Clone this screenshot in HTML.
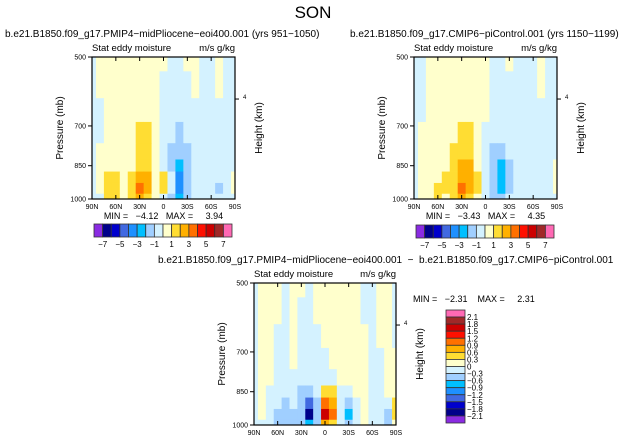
<!DOCTYPE html>
<html><head><meta charset="utf-8"><style>
html,body{margin:0;padding:0;background:#fff}
svg{display:block;font-family:"Liberation Sans",sans-serif}
svg text{white-space:pre}
</style></head><body>
<svg id="fig" width="627" height="442" viewBox="0 0 627 442" xmlns="http://www.w3.org/2000/svg">
<text x="313" y="18" font-size="17" text-anchor="middle" fill="#000">SON</text>
</svg>
<script>
const lats=[90,80,70,60,50,40,30,20,10,0,-10,-20,-30,-40,-50,-60,-70,-80,-90];
const levels=[500,575,650,725,800,850,900,950,1000];
const xTickLabels=['90N','60N','30N','0','30S','60S','90S'];
const yTickLabels=[500,700,850,1000];
const barLabelsTop=['-7','-5','-3','-1','1','3','5','7'];
const barLabelsDiff=['2.1','1.8','1.5','1.2','0.9','0.6','0.3','0','-0.3','-0.6','-0.9','-1.2','-1.5','-1.8','-2.1'];
const plioValues=[
[-0.5,0.5,0.5,0.5,0.5,0.5,0.5,0.5,0.5,0.5,-0.5,-0.5,0.5,0.5,-0.5,-0.5,0.5,-0.5,-0.5],
[-0.5,0.5,0.5,0.5,0.5,0.5,0.5,0.5,0.5,-0.5,-0.5,-0.5,-0.5,0.5,-0.5,-0.5,0.5,-0.5,-0.5],
[-0.5,-0.5,0.5,0.5,0.5,0.5,0.5,0.5,0.5,-0.5,-0.5,-0.5,-0.5,-0.5,-0.5,-0.5,-0.5,-0.5,-0.5],
[-0.5,-0.5,0.5,0.5,0.5,0.5,1.5,1.2,0.5,-0.5,-0.5,-1.5,-0.5,-0.5,-0.5,-0.5,-0.5,-0.5,-0.5],
[-0.5,0.5,0.5,0.5,0.5,0.5,1.5,1.5,0.5,-0.5,-1.5,-1.5,-1.5,-0.5,-0.5,-0.5,-0.5,-0.5,-0.5],
[-0.5,0.5,0.5,0.5,0.5,0.5,1.5,1.5,0.5,-0.5,-1.5,-2.5,-1.5,-0.5,-0.5,-0.5,-0.5,-0.5,-0.5],
[-0.5,0.5,1.5,1.5,0.5,1.5,2.5,2.5,0.5,1.5,-0.5,-3.5,-1.5,-0.5,-0.5,-0.5,-0.5,-0.5,0.5],
[-0.5,0.5,1.5,1.5,0.5,1.5,3.5,2.5,0.5,1.5,-0.5,-3.5,-1.5,-0.5,-0.5,-0.5,-1.5,-0.5,0.5],
[-0.5,-0.5,1.5,1.5,0.5,1.5,2.5,1.5,0.5,-0.5,-1.5,-2.5,-1.5,-0.5,-0.5,-0.5,-0.5,-0.5,-0.5]];
const piValues=[
[-0.5,-0.5,0.5,0.5,0.5,0.5,0.5,0.5,0.5,0.5,-0.5,-0.5,0.5,-0.5,-0.5,-0.5,0.5,-0.5,-0.5],
[-0.5,-0.5,0.5,0.5,0.5,0.5,0.5,0.5,0.5,0.5,-0.5,-0.5,-0.5,-0.5,-0.5,-0.5,0.5,-0.5,-0.5],
[-0.5,-0.5,0.5,0.5,0.5,0.5,0.5,0.5,0.5,0.5,-0.5,-0.5,-0.5,-0.5,-0.5,-0.5,-0.5,-0.5,-0.5],
[-0.5,0.5,0.5,0.5,0.5,0.5,1.5,1.5,0.5,-0.5,-0.5,-0.5,-0.5,-0.5,-0.5,-0.5,-0.5,-0.5,-0.5],
[-0.5,0.5,0.5,0.5,0.5,1.5,1.5,1.5,0.5,-0.5,-1.5,-1.5,-0.5,-0.5,-0.5,-0.5,-0.5,-0.5,-0.5],
[-0.5,0.5,0.5,0.5,0.5,1.5,2.5,2.5,0.5,-0.5,-1.5,-2.5,-1.5,-0.5,-0.5,-0.5,-0.5,-0.5,0.5],
[-0.5,0.5,0.5,0.5,1.5,1.5,2.5,2.5,1.5,-0.5,-1.5,-2.5,-1.5,-0.5,-0.5,-0.5,-0.5,-0.5,0.5],
[-0.5,0.5,0.5,1.5,1.5,1.5,3.5,2.5,1.5,-0.5,-1.5,-2.5,-1.5,-0.5,-0.5,-0.5,-0.5,-0.5,0.5],
[-0.5,0.5,0.5,1.5,0.5,1.5,2.5,1.5,0.5,-0.5,-1.5,-1.5,-0.5,-0.5,-0.5,-0.5,-0.5,-0.5,-0.5]];
const diffValues=[
[-0.1,0.1,0.1,0.1,-0.1,0.1,0.1,-0.1,0.1,0.1,0.1,0.1,0.1,0.1,-0.1,-0.1,0.1,0.1,-0.1],
[-0.1,0.1,0.1,0.1,-0.1,0.1,-0.1,-0.1,0.1,0.1,0.1,0.1,0.1,0.1,-0.1,-0.1,0.1,0.1,-0.1],
[-0.1,0.1,0.1,-0.1,-0.1,0.1,-0.1,-0.1,-0.1,0.1,0.1,0.1,0.1,0.1,0.1,-0.1,0.1,0.1,-0.1],
[-0.1,0.1,0.1,-0.1,-0.1,0.1,-0.1,-0.1,-0.1,-0.1,0.1,0.1,0.1,0.1,0.1,-0.1,-0.1,0.1,0.1],
[-0.1,0.1,0.1,-0.1,-0.2,-0.1,-0.2,-0.2,-0.1,-0.1,-0.1,0.1,0.1,0.1,0.1,-0.1,-0.1,0.1,0.1],
[-0.1,0.1,-0.1,-0.2,-0.2,-0.1,-0.4,-0.5,-0.1,0.4,0.4,-0.1,-0.1,0.1,0.1,-0.1,-0.1,0.1,0.1],
[-0.1,0.1,-0.1,-0.2,-0.4,-0.2,-0.5,-1.4,-0.4,1.0,0.7,-0.2,-0.5,-0.1,0.1,-0.1,-0.1,-0.2,0.4],
[-0.1,0.1,-0.2,-0.4,-0.5,-0.4,-0.5,-1.9,-0.4,1.5,1.0,-0.1,-0.7,-0.1,0.1,-0.1,-0.2,-0.5,0.4],
[-0.1,-0.1,-0.2,-0.4,-0.5,-0.4,-0.5,-0.8,-0.4,0.7,0.4,-0.2,-0.4,-0.1,0.1,-0.1,-0.1,-0.4,0.1]];
const colors=['#8a2be2','#00008b','#0000cd','#4169e1','#1e90ff','#00bfff','#a0cfff','#d4f2ff','#ffffcc','#ffdd33','#ffb000','#ff7000','#ff1000','#cc0000','#a02828','#ff69b4'];

const NS='http://www.w3.org/2000/svg';
const svg=document.getElementById('fig');
function mk(tag,attrs,parent){const e=document.createElementNS(NS,tag);for(const k in attrs)e.setAttribute(k,attrs[k]);(parent||svg).appendChild(e);return e;}
function txt(x,y,s,size,anchor,parent){const t=mk('text',{x:x,y:y,'font-size':size,'text-anchor':anchor||'start',fill:'#000'},parent);t.textContent=s;return t;}
function binIndex(v,step){let i=Math.floor(v/step+1e-9)+8;return Math.max(0,Math.min(15,i));}

function panel(id,x0,y0,w,h,vals,step,title,titleX,titleY,minmax){
  const g=mk('g',{});
  
  
  const xs=lat=>x0+(90-lat)/180*w;
  const ys=p=>y0+(Math.log(p)-Math.log(500))/(Math.log(1000)-Math.log(500))*h;
  const t=txt(titleX,titleY,title,10,'start',g);
  
  
  const s1=txt(x0,y0-6,'Stat eddy moisture',9.5,'start',g);
  
  
  const s2=txt(x0+w,y0-6,'m/s g/kg',9.5,'end',g);
  
  
  for(let r=0;r<levels.length;r++){
    const pTop=r===0?levels[0]:Math.sqrt(levels[r-1]*levels[r]);
    const pBot=r===levels.length-1?levels[r]:Math.sqrt(levels[r]*levels[r+1]);
    for(let c=0;c<lats.length;c++){
      const lL=c===0?lats[0]:(lats[c-1]+lats[c])/2;
      const lR=c===lats.length-1?lats[c]:(lats[c]+lats[c+1])/2;
      const rc=mk('rect',{x:xs(lL),y:ys(pTop),width:xs(lR)-xs(lL)+0.4,height:ys(pBot)-ys(pTop)+0.4,fill:colors[binIndex(vals[r][c],step)]},g);
      
      
    }
  }
  mk('rect',{x:x0,y:y0,width:w,height:h,fill:'none',stroke:'#000','stroke-width':1.2},g);
  xTickLabels.forEach((s,i)=>{const x=x0+i*w/6;mk('line',{x1:x,x2:x,y1:y0+h,y2:y0+h-4,stroke:'#000'},g);mk('line',{x1:x,x2:x,y1:y0,y2:y0+4,stroke:'#000'},g);
    const l=txt(x,y0+h+10,s,7,'middle',g);});
  yTickLabels.forEach(p=>{const y=ys(p);mk('line',{x1:x0,x2:x0-4,y1:y,y2:y,stroke:'#000'},g);
    const l=txt(x0-6,y+2.5,String(p),7,'end',g);});
  const y4=y0+h*0.296;
  mk('line',{x1:x0+w,x2:x0+w+4,y1:y4,y2:y4,stroke:'#000'},g);
  txt(x0+w+8,y4,'4',6,'start',g);
  const ya=txt(0,0,'Pressure (mb)',10,'middle',g);
  ya.setAttribute('transform','translate('+(x0-29)+','+(y0+h/2)+') rotate(-90)');
  
  
  const yb=txt(0,0,'Height (km)',10,'middle',g);
  yb.setAttribute('transform','translate('+(x0+w+27)+','+(y0+h/2)+') rotate(-90)');
  
  
  if(minmax){const m=txt(x0+w/2,y0+h+20,minmax,9,'middle',g);}
  return g;
}
function hbar(x0,y0,w,h){
  const g=mk('g',{});
  
  
  const bw=w/16;
  colors.forEach((c,i)=>{mk('rect',{x:x0+i*bw,y:y0,width:bw,height:h,fill:c,stroke:'#333','stroke-width':0.8},g);});
  barLabelsTop.forEach((s,i)=>{const l=txt(x0+(2*i+1)*bw,y0+h+10,s.replace('-','\u2212'),8,'middle',g);});
}
function vbar(x0,y0,w,h){
  const g=mk('g',{});
  
  
  const bh=h/16;
  for(let i=0;i<16;i++){mk('rect',{x:x0,y:y0+i*bh,width:w,height:bh,fill:colors[15-i],stroke:'#333','stroke-width':0.8},g);}
  barLabelsDiff.forEach((s,i)=>{const l=txt(x0+w+2,y0+(i+1)*bh+3,s.replace('-','\u2212'),8,'start',g);});
}
panel('pliocene',92,57,143,142,plioValues,1,'b.e21.B1850.f09_g17.PMIP4\u2212midPliocene\u2212eoi400.001 (yrs 951\u22121050)',5,37,'MIN =   \u22124.12   MAX =     3.94');
hbar(94,224,138,13);
panel('picontrol',414,57,143,142,piValues,1,'b.e21.B1850.f09_g17.CMIP6\u2212piControl.001 (yrs 1150\u22121199)',350,37,'MIN =   \u22123.43   MAX =     4.35');
hbar(416,225,138,13);
panel('difference',254,283,142,142,diffValues,0.3,'b.e21.B1850.f09_g17.PMIP4\u2212midPliocene\u2212eoi400.001  \u2212  b.e21.B1850.f09_g17.CMIP6\u2212piControl.001',158,263,null);
const mm=txt(413,302,'MIN =   \u22122.31    MAX =     2.31',9,'start');


vbar(446,310,19,113);
</script>
</body></html>
